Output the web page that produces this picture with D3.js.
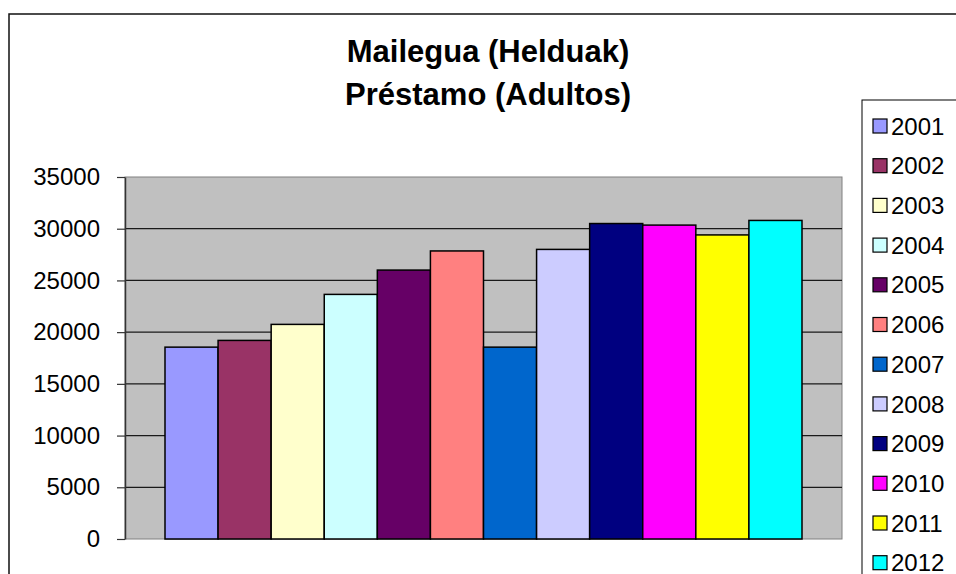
<!DOCTYPE html>
<html>
<head>
<meta charset="utf-8">
<script src="https://cdn.jsdelivr.net/npm/d3@7"></script>
<style>
  body { margin: 0; background: #fff; }
  svg { display: block; font-family: "Liberation Sans", Arial, sans-serif; }
</style>
</head>
<body>
<svg id="chart" width="956" height="574"></svg>
<script>
// Chart data
const years = ['2001', '2002', '2003', '2004', '2005', '2006', '2007', '2008', '2009', '2010', '2011', '2012']
const loans = [18550, 19200, 20750, 23650, 26000, 27850, 18550, 28000, 30500, 30350, 29400, 30800]
const colors = ['#9999FF', '#993366', '#FFFFCC', '#CCFFFF', '#660066', '#FF8080',
                '#0066CC', '#CCCCFF', '#000080', '#FF00FF', '#FFFF00', '#00FFFF']
const yTicks = [0, 5000, 10000, 15000, 20000, 25000, 30000, 35000]
const titleLines = ['Mailegua (Helduak)', 'Préstamo (Adultos)']

const svg = d3.select('#chart')

// Plot area bounds
const plot = { left: 125, right: 842, top: 177, bottom: 539 }
const GAP = 40

// Outer chart border (runs off the right and bottom edges)
svg.append('rect')
    .attr('x', 9).attr('y', 14)
    .attr('width', 1000).attr('height', 600)
    .attr('fill', '#fff')
    .attr('stroke', '#111')
    .attr('stroke-width', 1.5)

// Title
svg.append('g')
    .selectAll('text')
    .data(titleLines)
    .join('text')
    .attr('x', 488)
    .attr('y', (d, i) => 62 + i * 43)
    .attr('text-anchor', 'middle')
    .attr('font-size', 31)
    .attr('font-weight', 'bold')
    .text(d => d)

// Scales
const y = d3.scaleLinear().domain([0, 35000]).range([plot.bottom, plot.top])
const x = d3.scaleBand().domain(years).range([plot.left + GAP, plot.right - GAP]).paddingInner(0)

// Plot background
svg.append('rect')
    .attr('x', plot.left).attr('y', plot.top)
    .attr('width', plot.right - plot.left).attr('height', plot.bottom - plot.top)
    .attr('fill', '#C0C0C0')
    .attr('stroke', '#808080')
    .attr('stroke-width', 1)

// Gridlines
svg.append('g')
    .selectAll('line')
    .data(yTicks.filter(t => t > 0 && t < 35000))
    .join('line')
    .attr('x1', plot.left).attr('x2', plot.right)
    .attr('y1', d => y(d)).attr('y2', d => y(d))
    .attr('stroke', '#1a1a1a')
    .attr('stroke-width', 1.2)

// Y axis
const yAxis = svg.append('g')
    .attr('transform', `translate(${plot.left},0)`)
    .call(d3.axisLeft(y).tickValues(yTicks).tickFormat(d3.format('d'))
        .tickSize(8).tickPadding(17).tickSizeOuter(0))
yAxis.select('.domain').attr('stroke', '#333').attr('stroke-width', 1.5)
yAxis.selectAll('.tick line').attr('stroke', '#333').attr('stroke-width', 1.2)
yAxis.selectAll('.tick text')
    .attr('font-size', 24)
    .attr('font-family', '"Liberation Sans", Arial, sans-serif')
    .attr('fill', '#000')

// Bars
svg.append('g')
    .selectAll('rect')
    .data(years)
    .join('rect')
    .attr('x', d => x(d))
    .attr('y', (d, i) => y(loans[i]))
    .attr('width', x.bandwidth())
    .attr('height', (d, i) => y(0) - y(loans[i]))
    .attr('fill', (d, i) => colors[i])
    .attr('stroke', '#000')
    .attr('stroke-width', 1.5)

// Legend box (runs off the right and bottom edges)
svg.append('rect')
    .attr('x', 862).attr('y', 100)
    .attr('width', 200).attr('height', 600)
    .attr('fill', '#fff')
    .attr('stroke', '#000')
    .attr('stroke-width', 1)

const legend = svg.append('g')
    .selectAll('g')
    .data(years)
    .join('g')
    .attr('transform', (d, i) => `translate(873,${126 + i * 39.7})`)

legend.append('rect')
    .attr('x', 0).attr('y', -7)
    .attr('width', 14).attr('height', 14)
    .attr('fill', (d, i) => colors[i])
    .attr('stroke', '#000')
    .attr('stroke-width', 1.2)

legend.append('text')
    .attr('x', 18)
    .attr('dy', '0.36em')
    .attr('font-size', 24)
    .text(d => d)
</script>
</body>
</html>
